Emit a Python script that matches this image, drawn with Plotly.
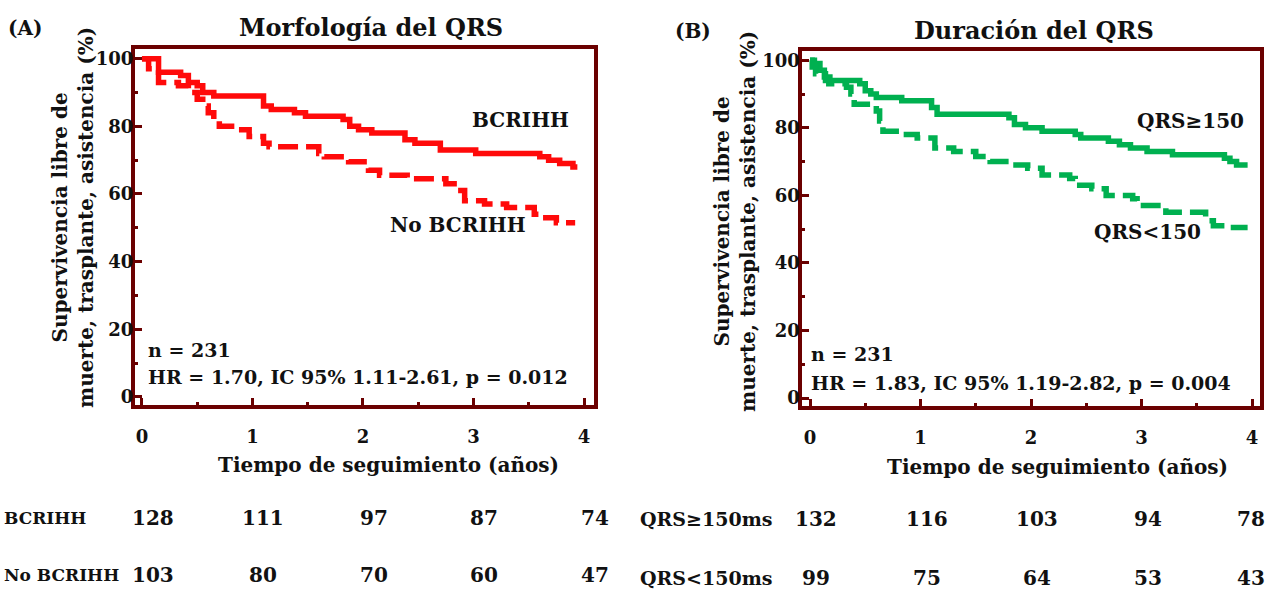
import plotly.graph_objects as go

# ---------------- data ----------------
# Panel A: Morfología del QRS (time in years, survival %)
a_bcrihh_t = [0, 0.15, 0.35, 0.42, 0.50, 0.55, 0.65, 1.10, 1.17, 1.38, 1.48, 1.82, 1.88, 1.96, 2.08, 2.38, 2.47, 2.70, 3.02, 3.60, 3.68, 3.78, 3.90, 3.94]
a_bcrihh_s = [100, 96, 95, 93, 92, 90, 89, 86, 85, 84, 83, 82, 80, 79, 78, 76, 75, 73, 72, 71, 70, 69, 68, 68]
a_nobcrihh_t = [0, 0.06, 0.15, 0.33, 0.42, 0.50, 0.55, 0.60, 0.65, 0.70, 0.85, 0.97, 1.10, 1.15, 1.60, 1.65, 1.87, 2.05, 2.15, 2.40, 2.75, 2.85, 2.92, 3.10, 3.30, 3.55, 3.60, 3.75, 3.92]
a_nobcrihh_s = [100, 97, 93, 92, 90, 88, 86, 84, 82, 80, 79, 77, 75, 74, 72, 71, 69.5, 67, 65.5, 64.5, 63, 61, 58, 57, 56, 54, 53, 51.5, 51.5]

# Panel B: Duración del QRS
b_ge150_t = [0, 0.04, 0.09, 0.13, 0.18, 0.45, 0.50, 0.55, 0.60, 0.83, 1.10, 1.15, 1.80, 1.85, 1.95, 2.10, 2.40, 2.45, 2.70, 2.80, 2.90, 3.05, 3.28, 3.75, 3.80, 3.86, 3.96]
b_ge150_s = [100, 99, 97, 95, 94, 93, 91, 90, 89, 88, 86, 84, 83, 81, 80, 79, 78, 77, 76, 75, 74, 73, 72, 71, 70, 69, 69]
b_lt150_t = [0, 0.02, 0.05, 0.14, 0.17, 0.33, 0.37, 0.40, 0.60, 0.63, 0.66, 0.78, 0.97, 1.13, 1.30, 1.50, 1.63, 1.82, 1.97, 2.10, 2.35, 2.40, 2.55, 2.68, 2.92, 2.96, 3.22, 3.58, 3.65, 3.75, 3.96]
b_lt150_s = [100, 98, 96, 94, 93, 92, 90, 87, 85, 82, 79, 78, 77, 74, 73, 71.5, 70, 69, 68, 66, 65, 63, 62, 60, 59, 57, 55, 52.5, 51, 50.5, 50.5]

x_ticks = [0, 1, 2, 3, 4]
y_ticks = [0, 20, 40, 60, 80, 100]

risk_times = [0, 1, 2, 3, 4]
a_risk_labels = ["BCRIHH", "No BCRIHH"]
a_risk_bcrihh = [128, 111, 97, 87, 74]
a_risk_nobcrihh = [103, 80, 70, 60, 47]
b_risk_labels = ["QRS≥150ms", "QRS<150ms"]
b_risk_ge150 = [132, 116, 103, 94, 78]
b_risk_lt150 = [99, 75, 64, 53, 43]

# ---------------- styling ----------------
W, H = 1270, 593
FONT = "DejaVu Serif"
FRAME = "#6B0000"
RED = "#FF0A0A"
GREEN = "#00B050"


def px(x):
    return x / W


def py(y):
    return 1 - y / H


fig = go.Figure()

fig.add_trace(go.Scatter(x=a_bcrihh_t, y=a_bcrihh_s, mode="lines", line=dict(shape="hv", color=RED, width=5.5),
                         xaxis="x", yaxis="y", showlegend=False))
fig.add_trace(go.Scatter(x=a_nobcrihh_t, y=a_nobcrihh_s, mode="lines", line=dict(shape="hv", color=RED, width=5.5, dash="20px,8px"),
                         xaxis="x", yaxis="y", showlegend=False))
fig.add_trace(go.Scatter(x=b_ge150_t, y=b_ge150_s, mode="lines", line=dict(shape="hv", color=GREEN, width=5.5),
                         xaxis="x2", yaxis="y2", showlegend=False))
fig.add_trace(go.Scatter(x=b_lt150_t, y=b_lt150_s, mode="lines", line=dict(shape="hv", color=GREEN, width=5.5, dash="20px,8px"),
                         xaxis="x2", yaxis="y2", showlegend=False))


def xax(domain, anchor, rng):
    return dict(domain=domain, anchor=anchor, range=rng, showline=True, mirror=True, linecolor=FRAME, linewidth=4,
                ticks="inside", ticklen=7, tickwidth=3, tickcolor=FRAME, tickvals=x_ticks,
                minor=dict(ticks="inside", ticklen=3, tickwidth=3, tickcolor=FRAME, tickvals=[0.5, 1.5, 2.5, 3.5]),
                showgrid=False, zeroline=False, ticklabelstandoff=12,
                tickfont=dict(family=FONT, size=18, color="#111", weight="bold"))


def yax(domain, anchor, rng):
    return dict(domain=domain, anchor=anchor, range=rng, showline=True, mirror=True, linecolor=FRAME, linewidth=4,
                ticks="inside", ticklen=7, tickwidth=3, tickcolor=FRAME, tickvals=y_ticks,
                minor=dict(ticks="inside", ticklen=3, tickwidth=3, tickcolor=FRAME, tickvals=[10, 30, 50, 70, 90]),
                showgrid=False, zeroline=False, ticklabelstandoff=-6,
                tickfont=dict(family=FONT, size=18, color="#111", weight="bold"))


fig.update_layout(
    width=W, height=H, margin=dict(l=0, r=0, t=0, b=0),
    paper_bgcolor="white", plot_bgcolor="white", showlegend=False,
    xaxis=xax([px(135), px(593.5)], "y", [-0.063, 4.086]),
    yaxis=yax([py(406), py(48.5)], "x", [-2.4, 102.8]),
    xaxis2=xax([px(801.5), px(1260)], "y2", [-0.077, 4.072]),
    yaxis2=yax([py(407), py(50)], "x2", [-2.3, 102.8]),
)

ann = []


def text(x, y, s, size, xanchor="center", xref="paper", yref="paper", angle=0, xshift=0):
    ann.append(dict(x=x, y=y, xref=xref, yref=yref, text=s, showarrow=False, xanchor=xanchor, yanchor="middle",
                    textangle=angle, xshift=xshift,
                    font=dict(family=FONT, size=size, color="#111", weight="bold")))


# panel labels and titles
text(px(25), py(27), "(A)", 20)
text(px(371), py(27), "Morfología del QRS", 24)
text(px(693), py(30), "(B)", 20)
text(px(1034), py(30), "Duración del QRS", 24)

# y-axis titles
text(px(73), py(218), "Supervivencia libre de<br>muerte, trasplante, asistencia (%)", 20, angle=-90)
text(px(735), py(222), "Supervivencia libre de<br>muerte, trasplante, asistencia (%)", 20, angle=-90)

# x-axis titles
text(px(388), py(466), "Tiempo de seguimiento (años)", 20)
text(px(1057), py(468), "Tiempo de seguimiento (años)", 20)

# statistics
text(px(146), py(351), "n = 231", 19, xanchor="left")
text(px(146), py(378), "HR = 1.70, IC 95% 1.11-2.61, p = 0.012", 19, xanchor="left")
text(px(809), py(355), "n = 231", 19, xanchor="left")
text(px(809), py(384), "HR = 1.83, IC 95% 1.19-2.82, p = 0.004", 19, xanchor="left")

# curve labels
text(px(520), py(120), "BCRIHH", 20)
text(px(458), py(225), "No BCRIHH", 20)
text(px(1190), py(121), "QRS≥150", 20)
text(px(1147), py(232), "QRS<150", 20)

# numbers at risk
text(px(2), py(520), a_risk_labels[0], 17, xanchor="left")
text(px(2), py(577), a_risk_labels[1], 17, xanchor="left")
text(px(638), py(521), b_risk_labels[0], 19, xanchor="left")
text(px(638), py(580), b_risk_labels[1], 19, xanchor="left")
for t, n1, n2 in zip(risk_times, a_risk_bcrihh, a_risk_nobcrihh):
    text(t, py(520), str(n1), 20, xref="x", xshift=11)
    text(t, py(577), str(n2), 20, xref="x", xshift=11)
for t, n1, n2 in zip(risk_times, b_risk_ge150, b_risk_lt150):
    last = t == risk_times[-1]
    anchor = "right" if last else "center"
    shift = 15 if last else 6
    text(t, py(521), str(n1), 20, xref="x2", xshift=shift, xanchor=anchor)
    text(t, py(580), str(n2), 20, xref="x2", xshift=shift, xanchor=anchor)

fig.update_layout(annotations=ann)
fig.write_html("out.html")
